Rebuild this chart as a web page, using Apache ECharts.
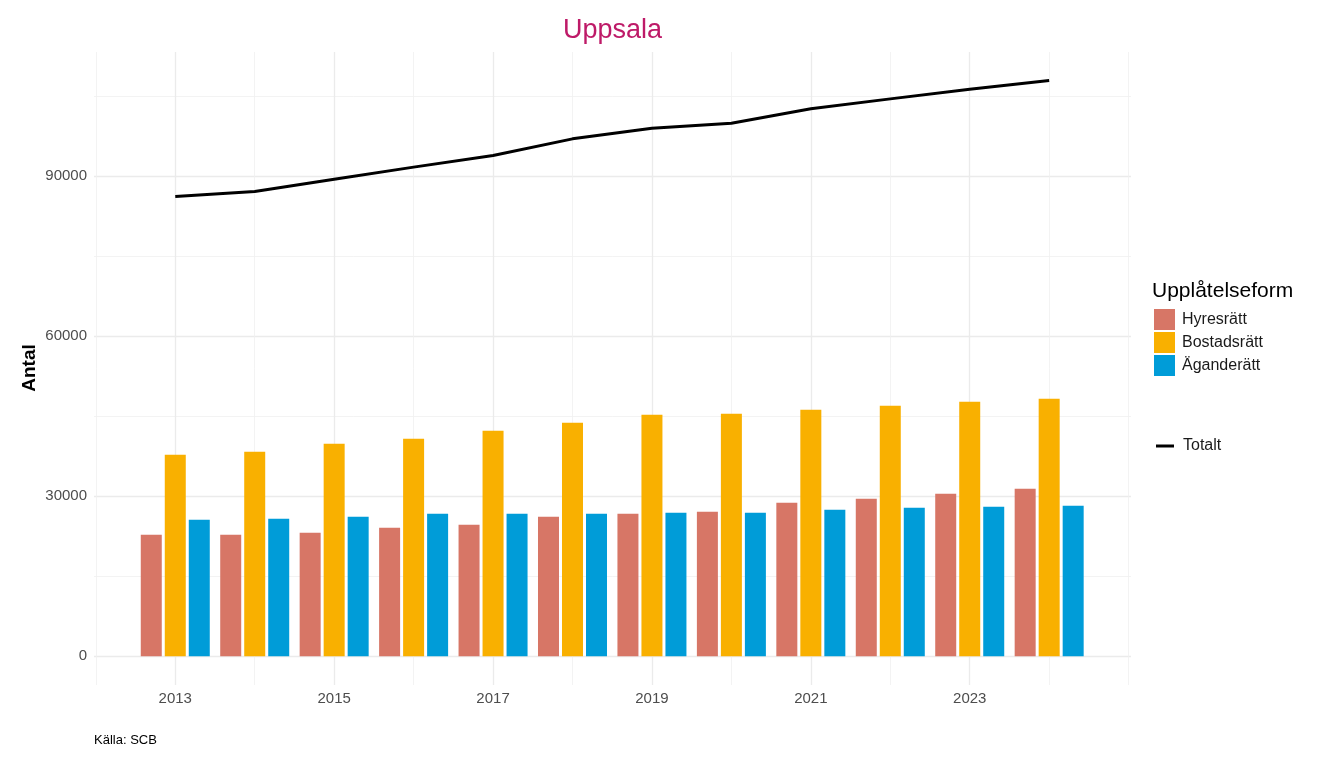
<!DOCTYPE html>
<html>
<head>
<meta charset="utf-8">
<script src="https://cdn.jsdelivr.net/npm/echarts@6/dist/echarts.min.js"></script>
<style>
html,body{margin:0;padding:0;background:#fff;}
#chart{width:1344px;height:768px;}
</style>
</head>
<body>
<div id="chart"></div>
<script>
const years = [2013,2014,2015,2016,2017,2018,2019,2020,2021,2022,2023,2024];
const hyresratt   = [22760,22760,23130,24070,24630,26130,26690,27060,28750,29500,30440,31370];
const bostadsratt = [37740,38300,39800,40740,42240,43730,45230,45420,46170,46920,47670,48230];
const aganderatt  = [25570,25750,26130,26690,26690,26690,26880,26880,27440,27810,28000,28190];
const totalt      = [86120,87060,89380,91630,93800,96930,98900,99870,102550,104420,106230,107850];
const yMajorTicks = [0,30000,60000,90000];
const yMinorTicks = [15000,45000,75000,105000];
const xMajorTicks = [2013,2015,2017,2019,2021,2023];
const xMinorTicks = [2012,2014,2016,2018,2020,2022,2024,2025];
const seriesNames = ['Hyresrätt','Bostadsrätt','Äganderätt'];
const colors = ['#D77666','#F9B000','#009CD8'];

const FONT = 'Liberation Sans';
const chart = echarts.init(document.getElementById('chart'));
const pair = (vals) => vals.map((v,i) => [years[i], v]);

const xMin = 2011.977, xMax = 2025.03;
const yMin = -5390, yMax = 113200;

const option = {
  backgroundColor: '#ffffff',
  animation: false,
  textStyle: {fontFamily: FONT},
  title: {
    text: 'Uppsala', left: 558, top: 12,
    textStyle: {fontFamily: FONT, fontSize: 27, fontWeight: 'normal', color: '#BE1A68'}
  },
  grid: {left: 94, right: 213, top: 52, bottom: 83, containLabel: false},
  xAxis: [
    {
      type: 'value', min: xMin, max: xMax,
      axisLine: {show: false},
      axisTick: {show: false, customValues: xMajorTicks},
      axisLabel: {customValues: xMajorTicks, color: '#4D4D4D', fontSize: 15, fontFamily: FONT, margin: 6,
                  formatter: v => String(Math.round(v))},
      splitLine: {show: true, lineStyle: {color: '#EBEBEB', width: 1.3}}
    },
    {
      type: 'value', min: xMin, max: xMax, position: 'bottom',
      axisLine: {show: false},
      axisTick: {show: false, customValues: xMinorTicks},
      axisLabel: {show: false, customValues: xMinorTicks},
      splitLine: {show: true, lineStyle: {color: '#F0F0F0', width: 0.8}}
    }
  ],
  yAxis: [
    {
      type: 'value', min: yMin, max: yMax,
      axisLine: {show: false},
      axisTick: {show: false, customValues: yMajorTicks},
      axisLabel: {customValues: yMajorTicks, color: '#4D4D4D', fontSize: 15, fontFamily: FONT, margin: 7,
                  formatter: v => String(Math.round(v))},
      splitLine: {show: true, lineStyle: {color: '#EBEBEB', width: 1.3}}
    },
    {
      type: 'value', min: yMin, max: yMax, position: 'left',
      axisLine: {show: false},
      axisTick: {show: false, customValues: yMinorTicks},
      axisLabel: {show: false, customValues: yMinorTicks},
      splitLine: {show: true, lineStyle: {color: '#F0F0F0', width: 0.8}}
    }
  ],
  legend: [
    {
      data: seriesNames, orient: 'vertical', left: 1154, top: 309,
      icon: 'rect', itemWidth: 21, itemHeight: 21, itemGap: 2,
      textStyle: {fontFamily: FONT, fontSize: 16, color: '#1A1A1A', padding: [0,0,0,2]},
      padding: 0
    },
    {
      data: [{name: 'Totalt', icon: 'rect'}], orient: 'vertical', left: 1156, top: 438,
      itemWidth: 18, itemHeight: 3,
      textStyle: {fontFamily: FONT, fontSize: 16, color: '#1A1A1A', padding: [0,0,0,4]},
      padding: 0
    }
  ],
  graphic: [
    {type: 'text', left: 1152, top: 281, style: {text: 'Upplåtelseform', font: '21px "Liberation Sans"', fill: '#000'}},
    {type: 'text', left: 94, top: 734, style: {text: 'Källa: SCB', font: '13px "Liberation Sans"', fill: '#000'}},
    {type: 'text', x: 30, y: 368, rotation: Math.PI / 2,
     style: {text: 'Antal', font: 'bold 19px "Liberation Sans"', fill: '#000', align: 'center', verticalAlign: 'middle'}}
  ],
  series: [
    {name: seriesNames[0], type: 'bar', data: pair(hyresratt), barWidth: 21, barGap: '14.3%', itemStyle: {color: colors[0]}},
    {name: seriesNames[1], type: 'bar', data: pair(bostadsratt), barWidth: 21, barGap: '14.3%', itemStyle: {color: colors[1]}},
    {name: seriesNames[2], type: 'bar', data: pair(aganderatt), barWidth: 21, barGap: '14.3%', itemStyle: {color: colors[2]}},
    {name: 'Totalt', type: 'line', data: pair(totalt), showSymbol: false, symbol: 'none',
     lineStyle: {color: '#000', width: 3}, itemStyle: {color: '#000'}}
  ]
};
chart.setOption(option);
</script>
</body>
</html>
